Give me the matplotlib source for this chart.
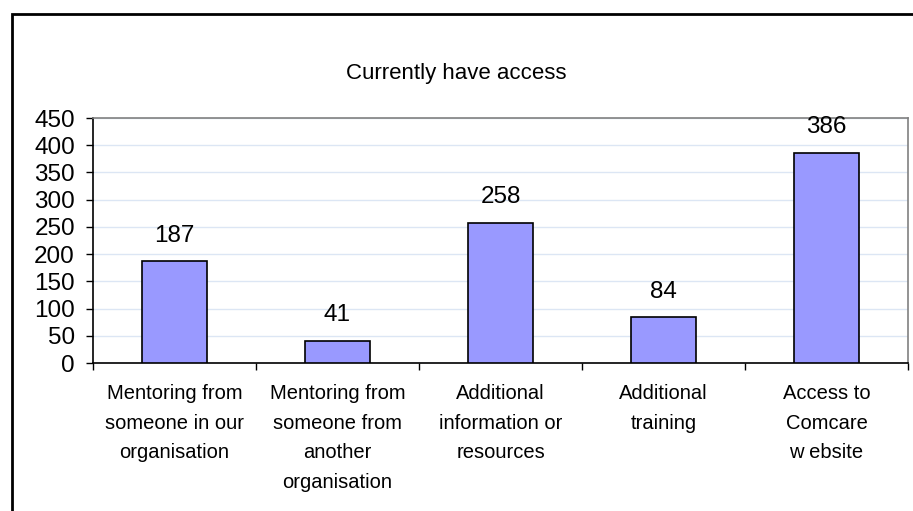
import matplotlib.pyplot as plt
from matplotlib.patches import Rectangle

plt.rcParams['font.family'] = ['Liberation Sans', 'DejaVu Sans']

# Survey responses: support currently available
categories = [
    "Mentoring from\nsomeone in our\norganisation",
    "Mentoring from\nsomeone from\nanother\norganisation",
    "Additional\ninformation or\nresources",
    "Additional\ntraining",
    "Access to\nComcare\nw ebsite",
]
counts = [187, 41, 258, 84, 386]
y_ticks = list(range(0, 451, 50))

W, H = 913, 511
fig = plt.figure(figsize=(W / 100, H / 100), dpi=100)

# chart area frame (cut off by the right and bottom edges)
fig.patches.append(Rectangle((11.5 / W, -0.05), 1.1, 1 - 13.5 / H + 0.05,
                             transform=fig.transFigure, fill=False,
                             edgecolor='black', linewidth=2.0, zorder=0))

ax = fig.add_axes([93 / W, (H - 363) / H, (908 - 93) / W, (363 - 118) / H])

x = list(range(len(categories)))
ax.bar(x, counts, width=0.4, color='#9999ff', edgecolor='black',
       linewidth=1.2, zorder=3)

for xi, v in zip(x, counts):
    ax.annotate(str(v), (xi, v), xytext=(0, 10.5), textcoords='offset points',
                ha='center', va='bottom', fontsize=17.5)

ax.set_xlim(-0.5, len(categories) - 0.5)
ax.set_ylim(0, 450)
ax.set_yticks(y_ticks)
ax.tick_params(axis='y', labelsize=17.5, length=5, width=1, direction='out', pad=8)

# category ticks sit on the boundaries between bars
ax.set_xticks([i - 0.5 for i in range(len(categories) + 1)], minor=False)
ax.set_xticklabels([])
ax.tick_params(axis='x', length=5, width=1, direction='out')
ax.set_xticks(x, minor=True)
ax.set_xticklabels(categories, minor=True, fontsize=14.5, linespacing=1.72)
ax.tick_params(axis='x', which='minor', length=0, pad=15)

ax.yaxis.grid(True, color='#dce6f4', linewidth=1, zorder=0)
ax.set_axisbelow(True)
for side in ('top', 'right'):
    ax.spines[side].set_color('#808080')
    ax.spines[side].set_linewidth(1.2)
for side in ('left', 'bottom'):
    ax.spines[side].set_color('black')
    ax.spines[side].set_linewidth(1.2)

fig.text(456 / W, 1 - 73 / H, "Currently have access", ha='center',
         va='center', fontsize=16)

fig.savefig('out.png', dpi=100)
